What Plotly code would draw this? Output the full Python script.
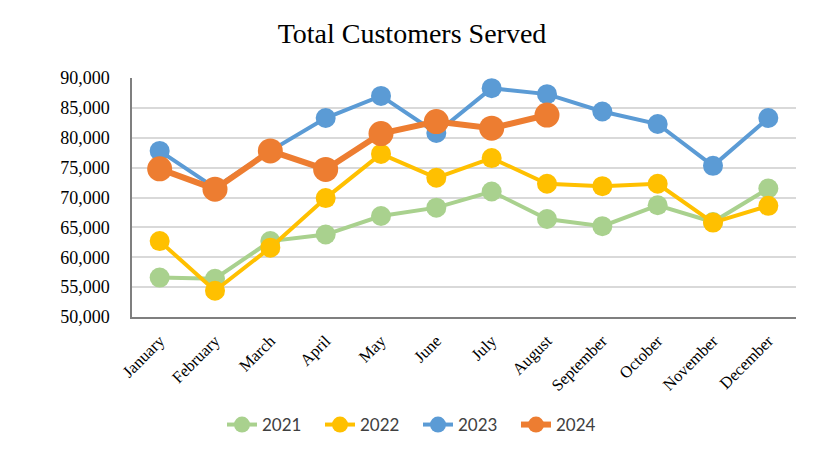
import plotly.graph_objects as go

months = ["January", "February", "March", "April", "May", "June", "July",
          "August", "September", "October", "November", "December"]
y2021 = [56600, 56400, 62700, 63800, 66900, 68300, 71000, 66400, 65200, 68700, 65900, 71500]
y2022 = [62700, 54400, 61600, 69900, 77300, 73300, 76600, 72300, 71900, 72300, 65800, 68600]
y2023 = [77800, 71600, 77800, 83300, 87000, 80800, 88300, 87300, 84400, 82300, 75300, 83300]
y2024 = [74800, 71400, 77800, 74700, 80700, 82700, 81600, 83800]

series = [
    ("2021", y2021, "#A9D18E", 4, 20),
    ("2022", y2022, "#FFC000", 4, 20),
    ("2023", y2023, "#5B9BD5", 4, 20),
    ("2024", y2024, "#ED7D31", 6, 25),
]

fig = go.Figure()
for name, vals, color, lw, ms in series:
    fig.add_trace(go.Scatter(
        x=months[:len(vals)], y=vals, name=name, mode="lines+markers",
        line=dict(color=color, width=lw),
        marker=dict(color=color, size=ms),
    ))

W, H = 824, 454
L, R = 124, 36
PW = W - L - R
fig.update_layout(
    width=W, height=H, autosize=False,
    margin=dict(l=L, r=R, t=70, b=145, autoexpand=False),
    paper_bgcolor="white", plot_bgcolor="white",
    title=dict(text="Total Customers Served", x=(412 - 8) / W, xref="container",
               xanchor="center",
               y=1 - 25 / H, yref="container", yanchor="middle",
               font=dict(family="Liberation Serif", size=28, color="black")),
    xaxis=dict(showline=True, linecolor="#7f7f7f", linewidth=1.5,
               tickangle=-45, showgrid=False, ticks="", range=[-0.5, 11.5],
               ticklabelstandoff=6,
               tickfont=dict(family="Liberation Serif", size=16.5, color="black"),
               categoryorder="array", categoryarray=months),
    yaxis=dict(range=[50000, 90000], dtick=5000, tickformat=",",
               showline=True, linecolor="#7f7f7f", linewidth=1.5,
               gridcolor="#d9d9d9", gridwidth=1.5, zeroline=False, ticks="",
               ticklabelstandoff=17,
               tickfont=dict(family="Liberation Serif", size=18, color="black")),
    legend=dict(orientation="h", x=(222 - 8 - L) / PW, xanchor="left",
                y=-(417 - 309) / 239, yanchor="middle",
                entrywidth=53, entrywidthmode="pixels",
                font=dict(family="Lato", size=17, color="#404040")),
    showlegend=True,
)

fig.write_html("out.html")
